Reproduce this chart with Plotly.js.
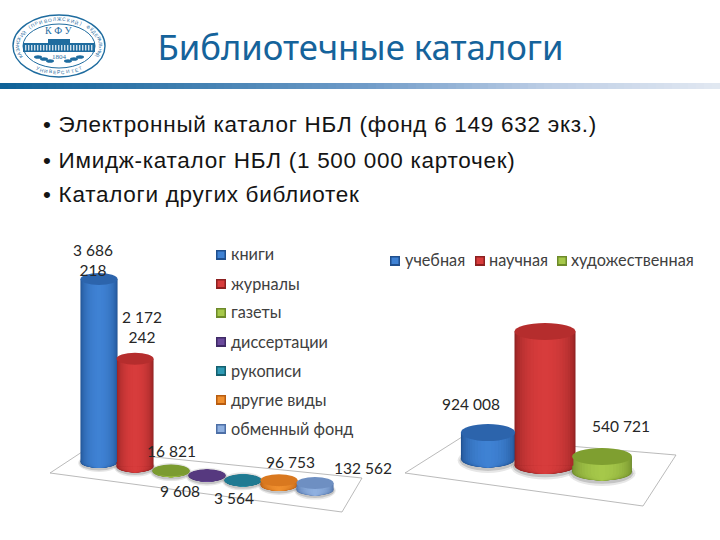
<!DOCTYPE html>
<html lang="ru">
<head>
<meta charset="utf-8">
<script src="https://cdn.plot.ly/plotly-3.0.1.min.js"></script>
<style>html,body{margin:0;padding:0;background:#fff}#chart{width:720px;height:540px}</style>
</head>
<body>
<div id="chart"></div>
<script>
// ---- data ----
const docTypes = ['книги','журналы','газеты','диссертации','рукописи','другие виды','обменный фонд'];
const docCounts = [3686218, 2172242, 16821, 9608, 3564, 96753, 132562];
const docLabels = ['3 686<br>218','2 172<br>242','16 821','9 608','3 564','96 753','132 562'];
const litTypes = ['учебная','научная','художественная'];
const litCounts = [924008, 4684903, 540721];
const litLabels = ['924 008','','540 721'];
const titleText = 'Библиотечные каталоги';
const bulletLines = [
  '• Электронный каталог НБЛ (фонд 6 149 632 экз.)',
  '• Имидж-каталог НБЛ (1 500 000 карточек)',
  '• Каталоги других библиотек'
];

// ---- styles ----
const W = 720, H = 540;
const px = v => v / W, py = v => 1 - v / H;
const LBL = 'Lato, "Noto Sans", "Open Sans", sans-serif';
const docPal = [
  ['#1f4f8e','#3f82d4','#2c64ac'], ['#8c2020','#d83c3c','#b52d2d'], ['#6d8a2a','#a6c84a','#7b9b30'],
  ['#3f2a66','#6b4a9c','#56397f'], ['#14606f','#2f9bb5','#1f7a92'], ['#b85c10','#f0902f','#d9781f'],
  ['#4d6fa6','#8fb0e0','#6e8fc2']
];
const litPal = [docPal[0], docPal[1], ['#6d8a2a','#a6c84a','#7f9f30']];
const bandFractions = [1,.97,.93,.88,.82,.75,.67,.58,.48,.37,.25,.12];

function hex(c){return [1,3,5].map(i=>parseInt(c.substr(i,2),16));}
function mix(a,b,t){const A=hex(a),B=hex(b);return 'rgb('+A.map((v,i)=>Math.round(v+(B[i]-v)*t)).join(',')+')';}

const traces = [], shapes = [], annotations = [];

function cylinders(cfg){
  const {names,values,pal,xa,ya,xr,yr,tilt,unitPx,wid,capPx} = cfg;
  const bases = values.map((v,i)=>-i*tilt);
  const bU = capPx / unitPx;
  names.forEach((n,i)=>{
    [[1.12,1.5,'rgba(120,120,120,.18)'],[1.05,1.25,'rgba(90,90,90,.25)']].forEach(s=>{
      const a=wid[i]/2*s[0], b=bU*s[1], c=bases[i]-bU*.15;
      shapes.push({type:'circle',layer:'below',xref:xr,yref:yr,x0:i-a,x1:i+a,y0:c-b,y1:c+b,fillcolor:s[2],line:{width:0}});
    });
  });
  bandFractions.forEach(f=>{
    const t=Math.sqrt(1-f*f);
    const colors=pal.map(p=>mix(p[0],p[1],t));
    traces.push({type:'bar',x:names,y:values,base:bases,width:wid.map(w=>w*f),xaxis:xa,yaxis:ya,
      marker:{color:colors,line:{width:0}},showlegend:false,hoverinfo:'skip',cliponaxis:false});
    names.forEach((n,i)=>{
      const a=wid[i]/2*f;
      shapes.push({type:'circle',layer:'below',xref:xr,yref:yr,x0:i-a,x1:i+a,y0:bases[i]-bU,y1:bases[i]+bU,fillcolor:colors[i],line:{width:0}});
    });
  });
  names.forEach((n,i)=>{
    const a=wid[i]/2, top=bases[i]+values[i];
    shapes.push({type:'circle',layer:'above',xref:xr,yref:yr,x0:i-a,x1:i+a,y0:top-bU,y1:top+bU,fillcolor:pal[i][2],line:{width:0}});
  });
}

cylinders({names:docTypes,values:docCounts,pal:docPal,xa:'x',ya:'y',xr:'x',yr:'y',
  tilt:92700,unitPx:49.64e-6,wid:docTypes.map(()=>1.03),capPx:6});
cylinders({names:litTypes,values:litCounts,pal:litPal,xa:'x2',ya:'y2',xr:'x2',yr:'y2',
  tilt:227000,unitPx:28.6e-6,wid:[.95,1.07,1.05],capPx:8.5});

// ---- floors ----
function floor(pts){
  const p=pts.map((q,i)=>(i?'L':'M')+px(q[0])+' '+py(q[1])).join(' ')+' Z';
  shapes.push({type:'path',layer:'below',xref:'paper',yref:'paper',path:p,line:{color:'#a8a8a8',width:.8}});
}
floor([[50,473],[85,450],[362,478],[342,512]]);
floor([[405,473],[462,437],[676,455],[643,506]]);

// ---- header bar ----
const barStops=[[0,'#0f6298'],[360,'#6f9bc8'],[540,'#bccde5'],[720,'#e3e9f2']];
for(let x=0;x<720;x+=8){
  let s=0; while(s<barStops.length-2 && x>=barStops[s+1][0]) s++;
  const t=(x-barStops[s][0])/(barStops[s+1][0]-barStops[s][0]);
  shapes.push({type:'rect',layer:'below',xref:'paper',yref:'paper',x0:px(x),x1:px(x+8.5),y0:py(89),y1:py(83),
    fillcolor:mix(barStops[s][1],barStops[s+1][1],t),line:{width:0}});
}

// ---- logo ----
const LOGO='#1f6c9f';
const note=(x,y,text,font,extra)=>annotations.push(Object.assign({xref:'paper',yref:'paper',x:px(x),y:py(y),text,showarrow:false,xanchor:'center',yanchor:'middle',font,borderpad:0},extra||{}));
function ell(cx,cy,a,b,fill,lw){shapes.push({type:'circle',layer:'below',xref:'paper',yref:'paper',x0:px(cx-a),x1:px(cx+a),y0:py(cy+b),y1:py(cy-b),fillcolor:fill,line:{color:LOGO,width:lw}});}
function rct(x0,y0,x1,y1,fill){shapes.push({type:'rect',layer:'below',xref:'paper',yref:'paper',x0:px(x0),x1:px(x1),y0:py(y1),y1:py(y0),fillcolor:fill,line:{width:0}});}
ell(59,46,46,31,'#fff',1.4); ell(59,46,36,22,'#fff',1);
rct(23,43,95,52,LOGO);
for(let x=25;x<93;x+=3){ rct(x,45,x+1.4,50.5,'#cfe0ec'); }
rct(48,39,70,43,LOGO);
[[38,57,4],[44,59,4],[50,61,4],[80,57,4],[74,59,4],[68,61,4]].forEach(l=>{
  ell(l[0],l[1],l[2],1.8,LOGO,0);
});
note(59,31,'К Ф У',{family:'"Liberation Serif",serif',size:10,color:LOGO});
note(59,57,'1804',{family:'"Liberation Serif",serif',size:7,color:LOGO});
const ringFont={family:'"Liberation Sans",sans-serif',size:4.8,color:LOGO};
const ringTop='КАЗАНСКИЙ (ПРИВОЛЖСКИЙ) ФЕДЕРАЛЬНЫЙ';
[...ringTop].forEach((ch,i)=>{
  const d=205-(i+.5)/ringTop.length*230, th=d*Math.PI/180;
  const a=41,b=26.5;
  if(ch!==' ') note(59+a*Math.cos(th),46-b*Math.sin(th),ch,ringFont,{textangle:Math.atan2(b*Math.cos(th),a*Math.sin(th))*180/Math.PI});
});
const ringBottom='УНИВЕРСИТЕТ';
[...ringBottom].forEach((ch,i)=>{
  const d=236+(i+.5)/ringBottom.length*68, th=d*Math.PI/180;
  const a=41,b=26.5;
  note(59+a*Math.cos(th),46-b*Math.sin(th),ch,ringFont,{textangle:Math.atan2(-b*Math.cos(th),-a*Math.sin(th))*180/Math.PI});
});

// ---- bullet text ----
[124,160,194].forEach((y,i)=>{
  note(42,y,bulletLines[i],{family:'"Liberation Sans",Arial,sans-serif',size:22.5,color:'#141414'},{xanchor:'left',align:'left'});
});

// ---- value labels ----
const docLabelPos=[[93,260],[142,327],[171,451],[180,491],[234,498],[290,462],[363,468]];
docLabels.forEach((t,i)=>note(docLabelPos[i][0],docLabelPos[i][1],t,{family:LBL,size:15.5,color:'#262626'}));
const litLabelPos=[[471,404],[545,300],[621,426]];
litLabels.forEach((t,i)=>{ if(t) note(litLabelPos[i][0],litLabelPos[i][1],t,{family:LBL,size:15.5,color:'#262626'}); });

// ---- keys ----
function key(x,y,p,txt,tx){
  rct(x,y-5,x+10,y+5,p[0]);
  rct(x+1.5,y-3.5,x+8.5,y+3,p[1]);
  note(tx-1,y-1,txt,{family:LBL,size:16.3,color:'#404040'},{xanchor:'left'});
}
docTypes.forEach((n,i)=>key(216,255+i*29,docPal[i],n,231));
const litKeyX=[[390,405],[475,489],[557,571]];
litTypes.forEach((n,i)=>key(litKeyX[i][0],261,litPal[i],n,litKeyX[i][1]));

const hidden={visible:false,fixedrange:true};
const layout={
  width:W,height:H,margin:{l:0,r:0,t:0,b:0},paper_bgcolor:'#fff',plot_bgcolor:'rgba(0,0,0,0)',
  title:{text:titleText,x:360.5/W,xanchor:'center',xref:'paper',y:py(48),yref:'paper',yanchor:'middle',
    font:{family:'"Noto Sans","Open Sans",sans-serif',size:34.7,color:'#15639b'}},
  barmode:'overlay',showlegend:false,
  xaxis:{...hidden,type:'category',domain:[63/W,351/W],range:[-1,7],categoryorder:'array',categoryarray:docTypes,anchor:'y'},
  yaxis:{...hidden,domain:[1-506.7/H,1-263.4/H],range:[-0.9e6,4e6],anchor:'x'},
  xaxis2:{...hidden,type:'category',domain:[431/W,659/W],range:[-1,3],categoryorder:'array',categoryarray:litTypes,anchor:'y2'},
  yaxis2:{...hidden,domain:[1-493.3/H,1-301.7/H],range:[-1.2e6,5.5e6],anchor:'x2'},
  shapes,annotations
};
Plotly.newPlot('chart',traces,layout,{staticPlot:true,displayModeBar:false}).then(gd=>{
  gd.querySelectorAll('.annotation-text').forEach(t=>{
    if(t.textContent.startsWith('•')) t.style.letterSpacing='0.72px';
  });
});
</script>
</body>
</html>
